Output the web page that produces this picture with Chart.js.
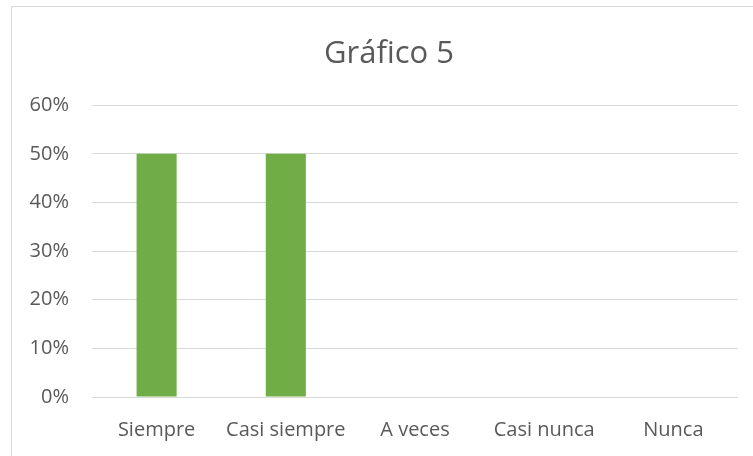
<!DOCTYPE html>
<html>
<head>
<meta charset="utf-8">
<script src="https://cdn.jsdelivr.net/npm/chart.js@4"></script>
<style>
  html, body { margin: 0; padding: 0; background: #fff; overflow: hidden; }
  #frame { position: absolute; left: 11px; top: 6px; width: 780px; height: 480px; border: 1px solid #d9d9d9; box-sizing: border-box; }
  #wrap { position: absolute; left: 0; top: 0; width: 753px; height: 456px; }
</style>
</head>
<body>
<div id="frame"></div>
<div id="wrap"><canvas id="grafico5" width="753" height="456"></canvas></div>
<script>
// datos del gráfico
const categorias = ['Siempre', 'Casi siempre', 'A veces', 'Casi nunca', 'Nunca'];
const valores = [50, 50, 0, 0, 0];
const maxEje = 60;
const pasoEje = 10;

// el marco original sigue más allá del borde derecho: el título va centrado algo más a la derecha
const moverTitulo = {
    id: 'moverTitulo',
    afterLayout(chart) {
        chart.titleBlock.left += 20;
        chart.titleBlock.right += 20;
    }
};

const ctx = document.getElementById('grafico5').getContext('2d');
const grafico = new Chart(ctx, {
    type: 'bar',
    data: {
        labels: categorias,
        datasets: [{
            label: 'Gráfico 5',
            data: valores,
            backgroundColor: '#70ad47',
            borderWidth: 0,
            barPercentage: 0.31,
            categoryPercentage: 1
        }]
    },
    options: {
        responsive: false,
        animation: false,
        layout: { padding: { left: 0, right: 15, top: 0, bottom: 0 } },
        plugins: {
            legend: { display: false },
            tooltip: { enabled: false },
            title: {
                display: true,
                text: 'Gráfico 5',
                color: '#595959',
                font: { family: 'Open Sans', size: 31, weight: 'normal' },
                padding: { top: 36, bottom: 32 }
            }
        },
        scales: {
            x: {
                grid: { display: false },
                border: { display: false },
                ticks: {
                    color: '#595959',
                    font: { family: 'Open Sans', size: 20 },
                    padding: 13,
                    maxRotation: 0
                },
                afterFit: (scale) => { scale.height = 59; }
            },
            y: {
                min: 0,
                max: maxEje,
                grid: { color: '#d9d9d9', lineWidth: 1, drawTicks: false },
                border: { display: false },
                ticks: {
                    stepSize: pasoEje,
                    color: '#595959',
                    font: { family: 'Open Sans', size: 20 },
                    padding: 23,
                    callback: (v) => v + '%'
                },
                afterFit: (scale) => { scale.width = 92; }
            }
        }
    },
    plugins: [moverTitulo]
});
</script>
</body>
</html>
